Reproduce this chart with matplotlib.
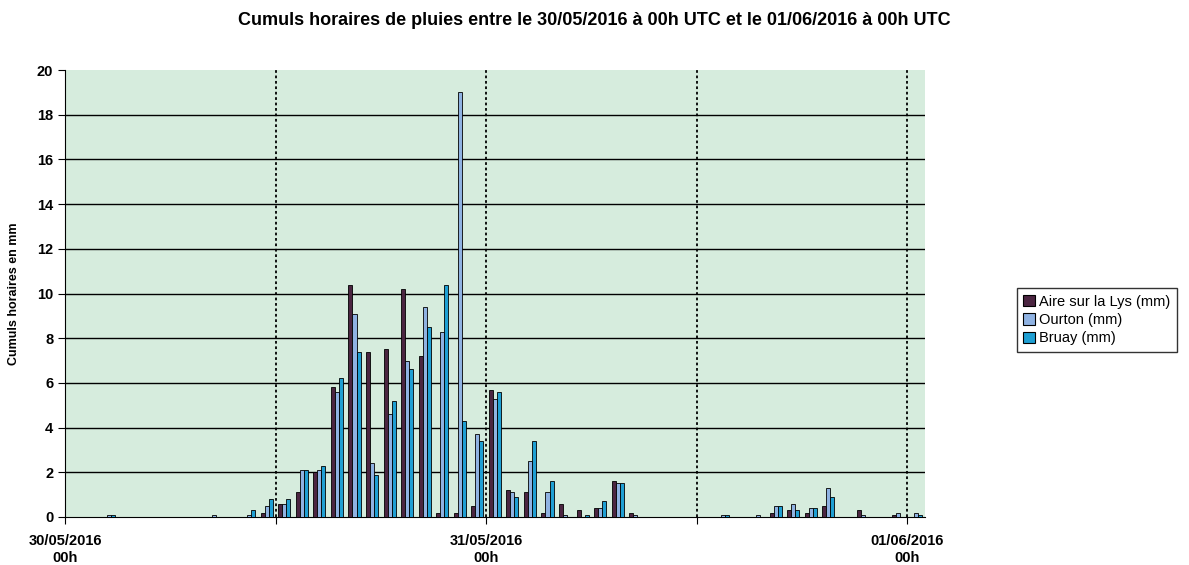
import numpy as np
import matplotlib.pyplot as plt
from matplotlib.patches import Patch

plt.rcParams["font.family"] = ["Liberation Sans", "DejaVu Sans"]

# hourly rainfall, 30/05/2016 00h -> 01/06/2016 00h (49 hours)
hours = np.arange(49)
aire = [0, 0, 0, 0, 0, 0, 0, 0, 0, 0,
        0, 0.2, 0.6, 1.1, 2.0, 5.8, 10.4, 7.4, 7.5, 10.2,
        7.2, 0.2, 0.2, 0.5, 5.7, 1.2, 1.1, 0.2, 0.6, 0.3,
        0.4, 1.6, 0.2, 0, 0, 0, 0, 0, 0, 0,
        0.2, 0.3, 0.2, 0.5, 0, 0.3, 0, 0.1, 0]
ourton = [0, 0, 0.1, 0, 0, 0, 0, 0, 0.1, 0,
          0.1, 0.5, 0.6, 2.1, 2.1, 5.6, 9.1, 2.4, 4.6, 7.0,
          9.4, 8.3, 19.0, 3.7, 5.3, 1.1, 2.5, 1.1, 0.1, 0,
          0.4, 1.5, 0.1, 0, 0, 0, 0, 0.1, 0, 0.1,
          0.5, 0.6, 0.4, 1.3, 0, 0.1, 0, 0.2, 0.2]
bruay = [0, 0, 0.1, 0, 0, 0, 0, 0, 0, 0,
         0.3, 0.8, 0.8, 2.1, 2.3, 6.2, 7.4, 1.9, 5.2, 6.6,
         8.5, 10.4, 4.3, 3.4, 5.6, 0.9, 3.4, 1.6, 0, 0.1,
         0.7, 1.5, 0, 0, 0, 0, 0, 0.1, 0, 0,
         0.5, 0.3, 0.4, 0.9, 0, 0, 0, 0, 0.1]

series = ["Aire sur la Lys (mm)", "Ourton (mm)", "Bruay (mm)"]
colors = ["#4b2541", "#8fb2e2", "#1f9fd3"]
tick_labels = ["30/05/2016\n00h", "31/05/2016\n00h", "01/06/2016\n00h"]

fig = plt.figure(figsize=(11.89, 5.65), dpi=100)
ax = fig.add_axes([0.0547, 0.085, 0.723, 0.791])
ax.set_facecolor("#d6ecdd")

w = 0.23
for k, (vals, c) in enumerate(zip([aire, ourton, bruay], colors)):
    ax.bar(hours + 0.5 + (k - 1) * w, vals, width=w, color=c,
           edgecolor="black", linewidth=0.6, zorder=3)

for y in range(2, 20, 2):
    ax.axhline(y, color="black", linewidth=1.0, zorder=1)
for x in [12, 24, 36, 48]:
    ax.axvline(x, color="black", linestyle=(0, (1.5, 1.5)), linewidth=1.3, zorder=2)

ax.set_xlim(0, 49)
ax.set_ylim(0, 20)
ax.set_yticks(range(0, 21, 2))
ax.set_xticks([0, 12, 24, 36, 48])
ax.set_xticklabels([tick_labels[0], "", tick_labels[1], "", tick_labels[2]],
                   fontsize=10.5, fontweight="bold", linespacing=1.35)
ax.tick_params(axis="x", length=5, pad=7)
ax.tick_params(axis="y", length=5, labelsize=10.5)
for t in ax.get_yticklabels():
    t.set_fontweight("bold")
ax.spines["top"].set_visible(False)
ax.spines["right"].set_visible(False)
ax.set_ylabel("Cumuls horaires en mm", fontsize=9, fontweight="bold", labelpad=12)

fig.text(0.5, 0.963, "Cumuls horaires de pluies entre le 30/05/2016 à 00h UTC et le 01/06/2016 à 00h UTC",
         ha="center", va="center", fontsize=13, fontweight="bold")

handles = [Patch(facecolor=c, edgecolor="black", linewidth=0.8) for c in colors]
leg = fig.legend(handles, series, loc="upper left", bbox_to_anchor=(0.849, 0.503),
                 fontsize=10.5, frameon=True, fancybox=False, edgecolor="black",
                 handlelength=0.8, handleheight=0.8, handletextpad=0.3,
                 labelspacing=0.3, borderpad=0.45)
leg.get_frame().set_linewidth(1.0)

fig.savefig("out.png", dpi=100)
